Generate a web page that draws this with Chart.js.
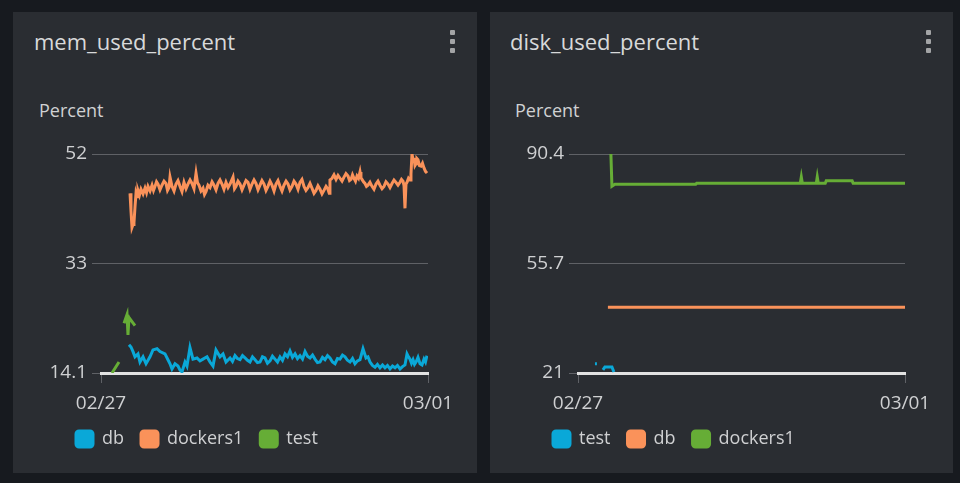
<!DOCTYPE html>
<html><head><meta charset="utf-8">
<script src="https://cdn.jsdelivr.net/npm/chart.js@4.4.1/dist/chart.umd.min.js"></script>
<style>
html,body{margin:0;padding:0;background:#171a1f;width:960px;height:483px;overflow:hidden;font-family:"Open Sans",sans-serif;}
.panel{position:absolute;top:12px;height:461px;background:#2a2d32;}
.title{position:absolute;font-size:22px;line-height:30px;color:#d8d9da;white-space:nowrap;}
.axlabel{position:absolute;font-size:18px;line-height:24px;color:#d0d1d3;white-space:nowrap;}
.dot{position:absolute;width:5px;height:5px;border-radius:1px;background:#a3a4a6;}
canvas{position:absolute;}
</style></head>
<body>
<div class="panel" style="left:13px;width:464px"></div>
<div class="panel" style="left:490px;width:463px"></div>
<div class="title" style="left:34px;top:26px">mem_used_percent</div>
<div class="title" style="left:510px;top:26px">disk_used_percent</div>
<div class="axlabel" style="left:39px;top:98px">Percent</div>
<div class="axlabel" style="left:515px;top:98px">Percent</div>
<div class="dot" style="left:450px;top:30px"></div>
<div class="dot" style="left:450px;top:39px"></div>
<div class="dot" style="left:450px;top:48px"></div>
<div class="dot" style="left:926px;top:30px"></div>
<div class="dot" style="left:926px;top:39px"></div>
<div class="dot" style="left:926px;top:48px"></div>
<canvas id="mem" width="464" height="343" style="left:13px;top:130px"></canvas>
<canvas id="disk" width="463" height="343" style="left:490px;top:130px"></canvas>
<script>
// x axis: hours since 02/27 00:00
const xTickHours = [0, 48];
const xTickLabels = ["02/27", "03/01"];

// ---- mem_used_percent ----
const memYTicks = [14.1, 33, 52];
const memYLabels = ["14.1", "33", "52"];

const memDbHours = [4.11,4.40,4.70,4.99,5.43,5.72,6.17,6.61,7.19,7.63,8.22,8.66,9.39,9.83,10.13,10.42,10.86,11.30,11.60,11.89,12.33,12.62,13.06,13.50,14.09,14.53,14.97,15.56,16.00,16.44,16.88,17.47,17.91,18.35,18.94,19.30,19.67,20.03,20.40,20.77,21.14,21.50,21.87,22.24,22.61,22.97,23.34,23.70,24.07,24.44,24.81,25.17,25.54,25.91,26.28,26.64,27.01,27.38,27.74,28.11,28.48,28.84,29.21,29.58,29.95,30.31,30.68,31.05,31.41,31.78,32.15,32.51,32.88,33.25,33.61,33.98,34.35,34.71,35.08,35.45,35.82,36.18,36.55,36.92,37.28,37.65,38.02,38.46,38.90,39.19,39.49,39.85,40.22,40.58,40.95,41.32,41.69,42.05,42.42,42.79,43.16,43.52,43.89,44.26,44.62,44.92,45.14,45.36,45.58,45.80,46.02,46.24,46.53,46.83,47.12,47.41,47.63,47.85];
const memDbValues = [19.0,18.6,17.8,16.9,17.4,16.0,16.9,15.7,16.9,18.1,18.3,17.8,17.4,16.4,15.7,14.8,15.7,15.3,14.6,14.3,16.0,15.3,18.5,16.5,16.7,16.2,16.5,16.9,16.0,15.3,18.1,16.9,17.4,16.0,16.7,16.1,17.1,16.6,16.4,17.1,16.7,16.3,16.0,16.9,16.4,15.9,16.0,16.9,16.7,15.8,16.2,17.0,16.5,16.0,16.9,16.3,17.4,16.9,17.9,16.8,17.4,16.6,17.1,16.5,17.8,17.0,16.7,17.2,16.5,15.9,16.0,16.8,16.4,17.1,16.7,16.0,15.7,16.6,16.5,17.2,16.9,16.3,16.0,16.6,15.7,16.2,16.4,18.3,16.7,16.9,16.0,15.4,15.1,15.6,15.0,15.5,15.0,15.4,14.8,15.3,15.0,15.4,14.8,15.2,15.5,17.4,16.9,16.5,15.8,16.4,15.6,16.0,16.8,15.7,15.5,16.5,16.0,17.1];

const memDockersHours = [4.26,4.40,4.55,4.70,4.84,5.00,5.14,5.29,5.43,5.65,5.87,6.17,6.46,6.68,6.90,7.20,7.49,7.71,7.93,8.15,8.37,8.66,8.95,9.25,9.54,9.76,9.98,10.13,10.42,10.72,11.01,11.30,11.60,11.89,12.18,12.48,12.77,13.07,13.36,13.65,13.95,14.17,14.39,14.68,14.97,15.19,15.41,15.70,16.00,16.30,16.59,16.88,17.17,17.47,17.76,18.05,18.35,18.65,18.94,19.16,19.38,19.60,19.82,20.11,20.40,20.70,20.99,21.29,21.58,21.87,22.17,22.46,22.75,23.05,23.34,23.63,23.93,24.22,24.51,24.81,25.10,25.40,25.69,25.98,26.28,26.57,26.86,27.16,27.45,27.74,28.04,28.33,28.62,28.92,29.21,29.50,29.80,30.09,30.39,30.68,30.97,31.27,31.56,31.85,32.15,32.44,32.73,33.03,33.32,33.50,33.61,33.91,34.20,34.50,34.79,35.08,35.38,35.67,35.96,36.26,36.48,36.70,36.92,37.14,37.36,37.58,37.80,38.02,38.16,38.31,38.53,38.75,38.97,39.19,39.48,39.78,40.07,40.37,40.66,40.95,41.25,41.54,41.83,42.13,42.42,42.72,43.01,43.30,43.60,43.89,44.11,44.33,44.48,44.62,44.77,44.92,45.14,45.36,45.50,45.65,45.80,45.94,46.09,46.24,46.38,46.53,46.75,46.97,47.19,47.41,47.63,47.85];
const memDockersValues = [45.2,42.2,39.3,39.8,40.1,43.0,45.2,44.6,45.7,44.9,45.9,45.1,46.1,45.3,46.4,45.6,46.6,45.7,46.4,47.2,46.8,45.8,46.6,47.3,46.9,45.7,46.2,48.0,46.4,45.6,46.8,47.4,46.4,45.5,47.1,46.0,46.8,47.5,46.9,46.0,48.7,47.0,46.6,45.6,46.1,45.0,45.5,46.6,46.2,47.2,46.6,45.8,46.9,47.5,46.8,45.9,47.1,46.2,46.8,47.4,48.0,46.0,46.4,47.3,46.8,45.8,46.6,47.4,47.1,45.9,46.8,47.5,46.9,45.8,46.6,47.4,46.8,45.7,46.4,47.3,46.6,45.6,46.8,47.4,46.4,45.6,46.6,47.3,46.8,45.8,46.4,47.3,46.8,45.9,47.1,47.6,46.4,45.7,46.2,46.9,46.1,45.2,45.7,46.5,45.9,45.1,45.7,46.4,45.9,45.2,47.5,47.8,48.4,47.6,48.3,47.8,47.3,48.0,48.6,48.2,47.4,47.6,48.4,47.8,47.3,48.2,47.8,48.9,47.9,47.6,47.2,46.9,46.4,46.6,47.1,46.4,45.9,46.8,47.3,46.6,46.0,46.4,47.2,46.8,46.2,46.9,47.5,47.1,46.6,47.1,47.6,47.3,46.5,42.6,46.8,47.1,47.8,47.5,48.5,52.0,51.0,51.3,50.0,50.3,51.2,51.0,50.0,49.9,50.4,49.6,49.0,48.7];

const memTestHours = [1.61,2.64,3.00,3.38,3.82,3.96,4.11,4.55,4.99];
const memTestValues = [14.1,16.0,null,22.7,24.2,20.7,23.7,23.0,22.3];

// ---- disk_used_percent ----
const diskYTicks = [21, 55.7, 90.4];
const diskYLabels = ["21", "55.7", "90.4"];

const diskTestHours = [2.49,2.78,3.20,3.66,3.95,4.98,5.27];
const diskTestValues = [23.9,23.9,null,22.0,22.9,22.9,21.3];

const diskDbHours = [4.39,12,24,36,48];
const diskDbValues = [41.8,41.8,41.8,41.8,41.8];

const diskDockersHours = [4.83,4.98,5.41,17.27,17.41,32.63,32.78,32.93,34.98,35.12,35.27,36.29,36.44,40.24,40.39,48];
const diskDockersValues = [90.4,80.2,80.8,80.8,81.1,81.1,83.1,81.1,81.1,83.1,81.1,81.1,81.9,81.9,81.1,81.1];

const BLUE = "#0aa8d8", ORANGE = "#fa925a", GREEN = "#66ad36";
const FONT = "'Open Sans', sans-serif";
const TEXT = "#cfd0d2";
const GRID = "#5f6166";

function ds(name, hours, values, color) {
  return {
    label: name,
    data: hours.map((h, i) => ({x: h, y: values[i]})),
    borderColor: color, backgroundColor: color,
    borderWidth: 3, pointRadius: 0, tension: 0, spanGaps: false, fill: false
  };
}

// shift legend so that it starts where the reference places it
const legendShift = {
  id: 'legendShift',
  afterLayout(chart) { if (chart.legend) { chart.legend.left += 18; } }
};

function build(id, datasets, yTicks, yLabels, padRight) {
  new Chart(document.getElementById(id), {
    type: 'line',
    data: {datasets},
    plugins: [legendShift],
    options: {
      responsive: false, animation: false, devicePixelRatio: 1,
      layout: {padding: {left: 28, right: padRight, top: 24, bottom: 15}},
      scales: {
        x: {
          type: 'linear', min: xTickHours[0], max: xTickHours[xTickHours.length - 1],
          afterBuildTicks: s => { s.ticks = xTickHours.map(v => ({value: v})); },
          afterFit: s => { s.height = 40; },
          ticks: {callback: v => xTickLabels[xTickHours.indexOf(v)], color: TEXT,
                  font: {family: FONT, size: 19}, padding: 9, maxRotation: 0, autoSkip: false},
          grid: {drawOnChartArea: false, tickLength: 10, color: GRID, lineWidth: 1},
          border: {display: true, color: '#e2e2e2', width: 3}
        },
        y: {
          min: yTicks[0], max: yTicks[yTicks.length - 1],
          afterBuildTicks: s => { s.ticks = yTicks.map(v => ({value: v})); },
          afterFit: s => { s.width = 60; },
          ticks: {callback: v => yLabels[yTicks.indexOf(v)], color: TEXT,
                  font: {family: FONT, size: 19}, padding: 5},
          grid: {color: GRID, tickLength: 9, lineWidth: 1},
          border: {display: false}
        }
      },
      plugins: {
        legend: {position: 'bottom', align: 'start',
          labels: {boxWidth: 17, boxHeight: 16, useBorderRadius: true, borderRadius: 3,
                   padding: 17, color: TEXT, font: {family: FONT, size: 18}}},
        tooltip: {enabled: false}
      }
    }
  });
}

build('mem', [
  ds('db', memDbHours, memDbValues, BLUE),
  ds('dockers1', memDockersHours, memDockersValues, ORANGE),
  ds('test', memTestHours, memTestValues, GREEN)
], memYTicks, memYLabels, 49);

build('disk', [
  ds('test', diskTestHours, diskTestValues, BLUE),
  ds('db', diskDbHours, diskDbValues, ORANGE),
  ds('dockers1', diskDockersHours, diskDockersValues, GREEN)
], diskYTicks, diskYLabels, 48);
</script>
</body></html>
